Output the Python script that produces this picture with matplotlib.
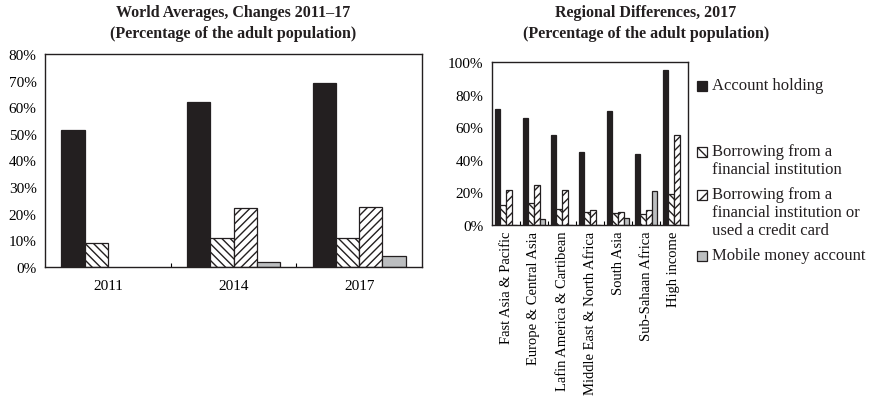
import numpy as np
import matplotlib.pyplot as plt
from matplotlib.patches import Rectangle

plt.rcParams['font.family'] = ['Liberation Serif', 'DejaVu Serif']
plt.rcParams['hatch.linewidth'] = 1.0

# data
years = ['2011', '2014', '2017']
world_account = [51.5, 62, 69]
world_borrow = [9, 11, 11]
world_borrow_cc = [np.nan, 22, 22.5]
world_mobile = [np.nan, 2, 4.3]

regions = ['Fast Asia & Pacific', 'Europe & Central Asia', 'Lafin America & Cartibean',
           'Middle East & North Africa', 'South Asia', 'Sub-Sahaan Africa', 'High income']
reg_account = [71, 65.5, 55.5, 44.5, 70, 43.5, 95]
reg_borrow = [12, 13.5, 10, 8, 7.5, 7, 19]
reg_borrow_cc = [21.5, 24.5, 21.5, 9.5, 8, 9, 55]
reg_mobile = [0, 3.8, 0, 0, 4.5, 21, 0]

labels = ['Account holding', 'Borrowing from a\nfinancial institution',
          'Borrowing from a\nfinancial institution or\nused a credit card',
          'Mobile money account']

black = '#231f20'
gray = '#bcbec0'
styles = [dict(color=black, edgecolor=black),
          dict(color='white', edgecolor=black, hatch='\\\\\\\\'),
          dict(color='white', edgecolor=black, hatch='////'),
          dict(color=gray, edgecolor=black)]

W, H = 872, 406
fig = plt.figure(figsize=(W / 100, H / 100), dpi=100)


def axes_px(x0, y0, x1, y1):
    return fig.add_axes([x0 / W, 1 - y1 / H, (x1 - x0) / W, (y1 - y0) / H])


def grouped(ax, series, n, total):
    w = total / 4
    x = np.arange(n)
    for i, vals in enumerate(series):
        ax.bar(x + (i - 1.5) * w, vals, w, linewidth=0.9, **styles[i])
    ax.set_xlim(-0.5, n - 0.5)
    ax.set_xticks(x)
    ax.set_xticks(np.arange(n - 1) + 0.5, minor=True)
    ax.tick_params(axis='x', which='major', length=0, labelsize=11, pad=9)
    ax.tick_params(axis='x', which='minor', direction='in', length=3, width=0.8)
    ax.tick_params(axis='y', length=0, labelsize=11, pad=6)
    for s in ax.spines.values():
        s.set_linewidth(1.0)
        s.set_color('#231f20')


# left chart
ax1 = axes_px(45, 55, 422, 268)
grouped(ax1, [world_account, world_borrow, world_borrow_cc, world_mobile], 3, 0.74)
ax1.set_ylim(0, 80)
ax1.set_yticks(range(0, 81, 10))
ax1.set_yticklabels([f'{v}%' for v in range(0, 81, 10)])
ax1.set_xticklabels(years)

# right chart
ax2 = axes_px(492, 63, 688, 226)
grouped(ax2, [reg_account, reg_borrow, reg_borrow_cc, reg_mobile], 7, 0.8)
ax2.set_ylim(0, 100)
ax2.set_yticks(range(0, 101, 20))
ax2.set_yticklabels([f'{v}%' for v in range(0, 101, 20)])
ax2.set_xticklabels(regions, rotation=90, va='top', ha='center')
ax2.tick_params(axis='x', which='major', pad=4, labelsize=10.5)

# titles
for xc, txt in [(233, 'World Averages, Changes 2011–17\n(Percentage of the adult population)'),
                (646, 'Regional Differences, 2017\n(Percentage of the adult population)')]:
    fig.text(xc / W, 1 - 5 / H, txt, ha='center', va='top', fontsize=11.5,
             fontweight='bold', linespacing=1.45, color='#231f20')

# legend
leg_y = [87, 153, 196, 257]
leg_hatch = [None, '\\\\', '//', None]
for i, lab in enumerate(labels):
    yc = leg_y[i]
    fig.add_artist(Rectangle((697 / W, 1 - (yc + 5) / H), 10 / W, 10 / H,
                             facecolor=styles[i]['color'], edgecolor=black,
                             hatch=leg_hatch[i], linewidth=0.9, transform=fig.transFigure))
    fig.text(712 / W, 1 - (yc - 9) / H, lab, ha='left', va='top', fontsize=12,
             linespacing=1.15, color='#231f20')

fig.savefig('out.png', dpi=100)
